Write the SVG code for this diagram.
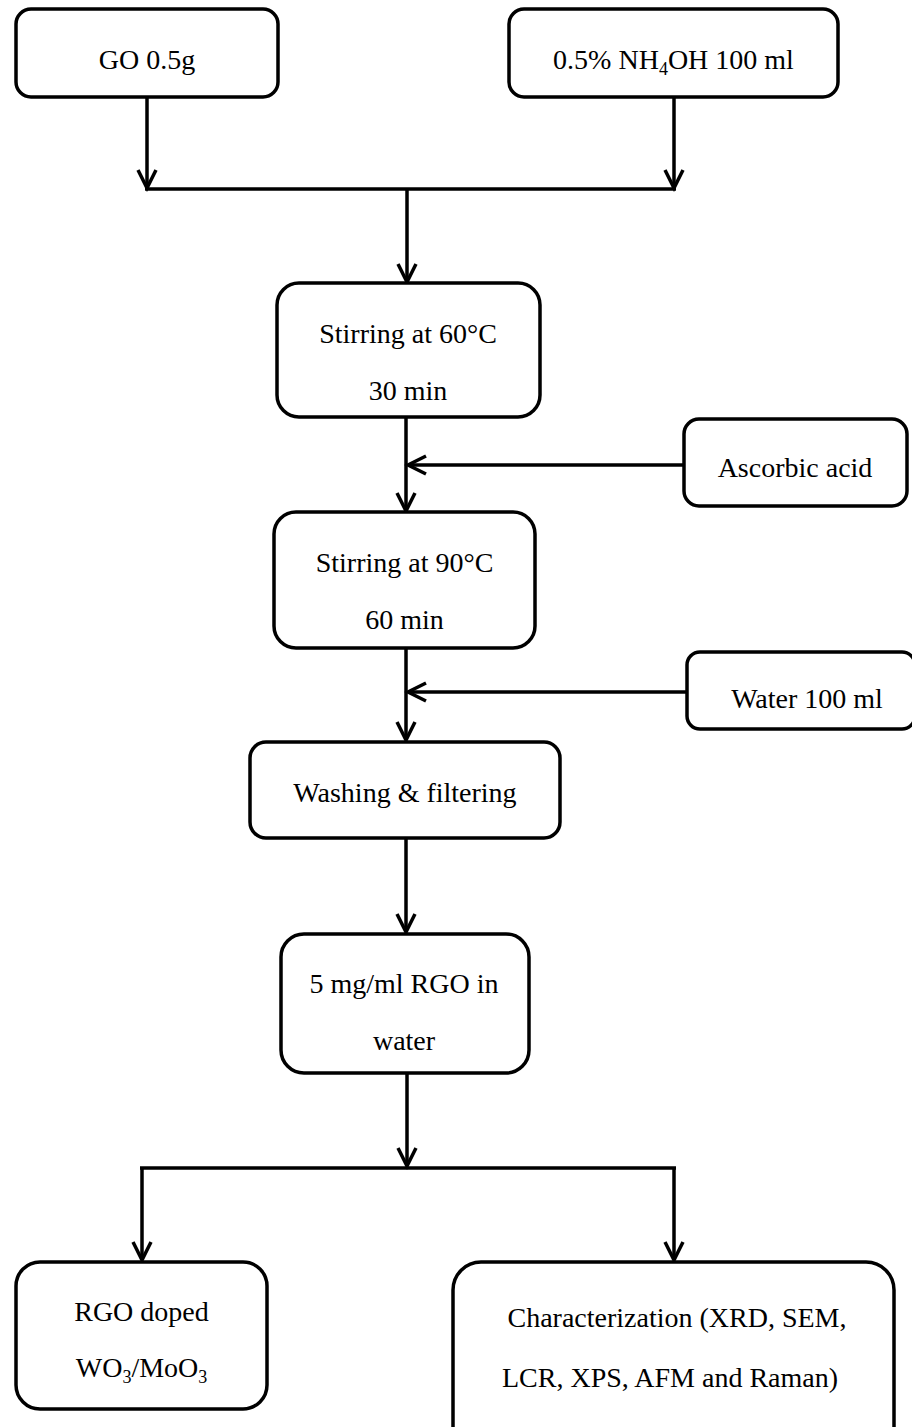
<svg xmlns="http://www.w3.org/2000/svg" width="912" height="1427" viewBox="0 0 912 1427">
  <style>
    .box { fill: #ffffff; stroke: #000000; stroke-width: 3.5; }
    .lbl { font-family: "Liberation Serif", "Times New Roman", serif; font-size: 28px; fill: #000000; text-anchor: middle; }
    .sub { font-size: 18px; }
    .wire { fill: none; stroke: #000000; stroke-width: 3.5; }
    .arr { marker-end: url(#chevron); }
  </style>
  <defs>
    <!-- open chevron arrowhead -->
    <marker id="chevron" markerUnits="userSpaceOnUse" viewBox="-22 -13 26 26" refX="0" refY="0" markerWidth="26" markerHeight="26" orient="auto">
      <path d="M -18 -9 L 0 0 L -18 9" fill="none" stroke="#000000" stroke-width="3.5" stroke-linejoin="miter"/>
    </marker>
  </defs>

  <!-- connectors -->
  <g id="connectors">
    <line class="wire arr" x1="147" y1="97" x2="147" y2="188"/>
    <line class="wire arr" x1="674" y1="97" x2="674" y2="188"/>
    <line class="wire" x1="145" y1="189" x2="676" y2="189"/>
    <line class="wire arr" x1="407" y1="189" x2="407" y2="282"/>
    <line class="wire arr" x1="406" y1="417" x2="406" y2="511"/>
    <line class="wire arr" x1="684" y1="465" x2="408" y2="465"/>
    <line class="wire arr" x1="406" y1="648" x2="406" y2="740"/>
    <line class="wire arr" x1="687" y1="692" x2="408" y2="692"/>
    <line class="wire arr" x1="406" y1="838" x2="406" y2="932"/>
    <line class="wire arr" x1="407" y1="1073" x2="407" y2="1166"/>
    <line class="wire" x1="140" y1="1168" x2="676" y2="1168"/>
    <line class="wire arr" x1="142" y1="1168" x2="142" y2="1260"/>
    <line class="wire arr" x1="674" y1="1168" x2="674" y2="1260"/>
  </g>

  <g id="go">
    <rect class="box" x="16" y="9" width="262" height="88" rx="15"/>
    <text class="lbl" x="147" y="69">GO 0.5g</text>
  </g>

  <g id="ammonia">
    <rect class="box" x="509" y="9" width="329" height="88" rx="15"/>
    <text class="lbl" x="673.5" y="69">0.5% NH<tspan class="sub" dy="6">4</tspan><tspan dy="-6">OH 100 ml</tspan></text>
  </g>

  <g id="stir60">
    <rect class="box" x="277" y="283" width="263" height="134" rx="22"/>
    <text class="lbl" x="408" y="343">Stirring at 60°C</text>
    <text class="lbl" x="408" y="400">30 min</text>
  </g>

  <g id="ascorbic">
    <rect class="box" x="684" y="419" width="223" height="87" rx="15"/>
    <text class="lbl" x="795" y="477">Ascorbic acid</text>
  </g>

  <g id="stir90">
    <rect class="box" x="274" y="512" width="261" height="136" rx="22"/>
    <text class="lbl" x="404.5" y="572">Stirring at 90°C</text>
    <text class="lbl" x="404.5" y="629">60 min</text>
  </g>

  <g id="water">
    <rect class="box" x="687" y="652" width="228" height="77" rx="13"/>
    <text class="lbl" x="807" y="708">Water 100 ml</text>
  </g>

  <g id="washing">
    <rect class="box" x="250" y="742" width="310" height="96" rx="16"/>
    <text class="lbl" x="405" y="802">Washing &amp; filtering</text>
  </g>

  <g id="rgo-dispersion">
    <rect class="box" x="281" y="934" width="248" height="139" rx="23"/>
    <text class="lbl" x="404" y="993">5 mg/ml RGO in</text>
    <text class="lbl" x="404" y="1050">water</text>
  </g>

  <g id="rgo-doped">
    <rect class="box" x="16" y="1262" width="251" height="147" rx="24"/>
    <text class="lbl" x="141.5" y="1321">RGO doped</text>
    <text class="lbl" x="141.5" y="1377">WO<tspan class="sub" dy="6">3</tspan><tspan dy="-6">/MoO</tspan><tspan class="sub" dy="6">3</tspan></text>
  </g>

  <g id="characterization">
    <rect class="box" x="453" y="1262" width="441" height="200" rx="28"/>
    <text class="lbl" x="677" y="1327">Characterization (XRD, SEM,</text>
    <text class="lbl" x="670" y="1387">LCR, XPS, AFM and Raman)</text>
  </g>
</svg>
